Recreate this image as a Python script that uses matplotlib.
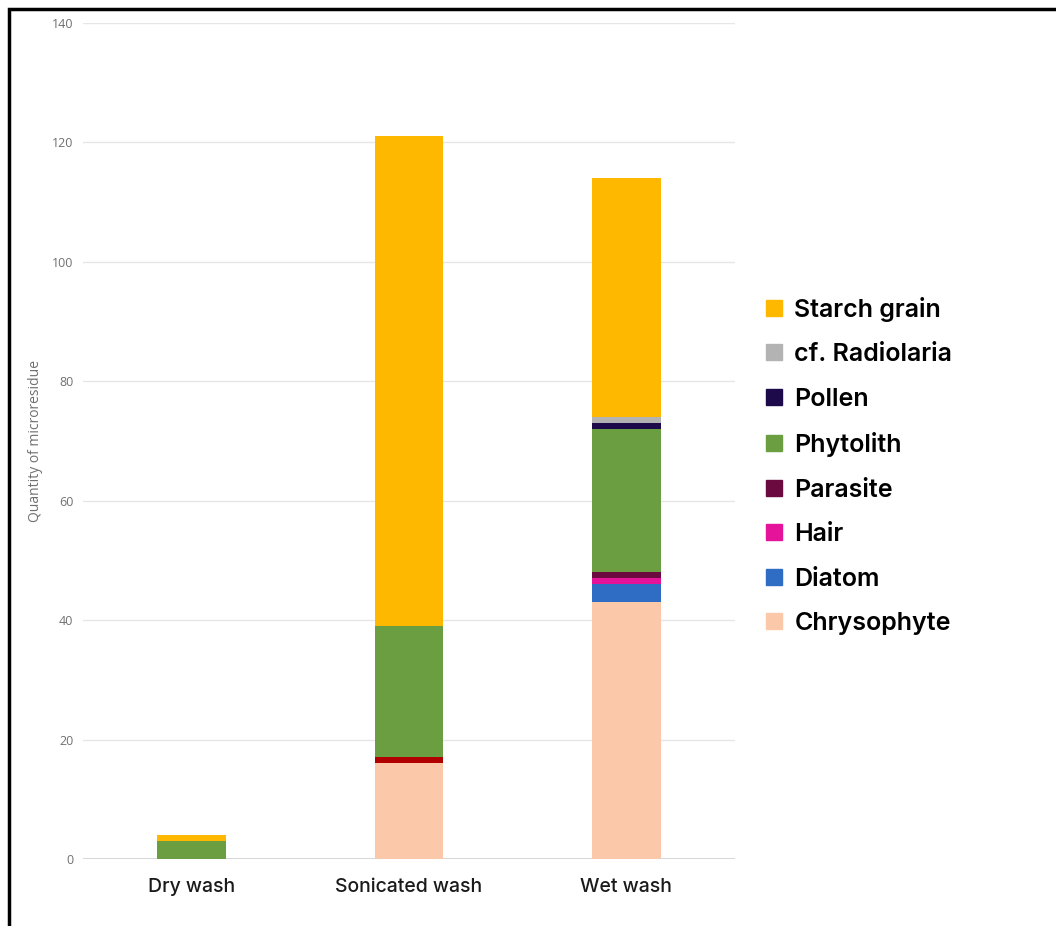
import matplotlib.pyplot as plt
from matplotlib.patches import Rectangle
from matplotlib.lines import Line2D

categories = ["Dry wash", "Sonicated wash", "Wet wash"]

# counts per residue type, stacked bottom-to-top
chrysophyte = [0, 16, 43]
unlisted_red = [0, 1, 0]
diatom = [0, 0, 3]
hair = [0, 0, 1]
parasite = [0, 0, 1]
phytolith = [3, 22, 24]
pollen = [0, 0, 1]
radiolaria = [0, 0, 1]
starch = [1, 82, 40]

series = [
    ("Chrysophyte", chrysophyte, "#FBC9A9"),
    ("_red", unlisted_red, "#B00000"),
    ("Diatom", diatom, "#2F6CC4"),
    ("Hair", hair, "#E5139A"),
    ("Parasite", parasite, "#6B0A3F"),
    ("Phytolith", phytolith, "#6A9E41"),
    ("Pollen", pollen, "#1C0A4A"),
    ("cf. Radiolaria", radiolaria, "#B3B3B3"),
    ("Starch grain", starch, "#FFB800"),
]

fig = plt.figure(figsize=(10.56, 9.26), dpi=100)
ax = fig.add_axes([83 / 1056, 1 - 859 / 926, (735 - 83) / 1056, (859 - 23) / 926])

x = list(range(len(categories)))
bottom = [0] * len(categories)
for name, vals, color in series:
    ax.bar(x, vals, bottom=bottom, width=0.315, color=color, zorder=3)
    bottom = [b + v for b, v in zip(bottom, vals)]

ax.set_xlim(-0.5, 2.5)
ax.set_ylim(0, 140)
ax.set_yticks(range(0, 141, 20))
ax.grid(axis="y", color="#E6E6E6", linewidth=1, zorder=0)
ax.axhline(0, color="#D0D0D0", linewidth=1.2, zorder=2)
for s in ax.spines.values():
    s.set_visible(False)
ax.tick_params(axis="y", length=0, labelsize=9, labelcolor="#707070", pad=7)
ax.tick_params(axis="x", length=0, labelsize=14, labelcolor="#1A1A1A", pad=14)
ax.set_xticks(x)
ax.set_xticklabels(categories, fontfamily="Inter", fontweight="medium")
for lbl in ax.get_yticklabels():
    lbl.set_fontfamily("Open Sans")
ax.set_ylabel("Quantity of microresidue", fontsize=10, color="#707070",
              fontfamily="Open Sans", labelpad=6)

# legend, top entry first
legend_items = [s for s in reversed(series) if not s[0].startswith("_")]
handles = [Line2D([], [], marker="s", linestyle="none", markersize=11.5,
                  markerfacecolor=c, markeredgecolor=c) for _, _, c in legend_items]
labels = [n for n, _, _ in legend_items]
fig.legend(handles, labels, loc="upper left", bbox_to_anchor=(739 / 1056, 1 - 274 / 926),
           frameon=False, prop={"family": "Inter", "size": 18, "weight": "semibold"},
           labelspacing=0.86, handletextpad=0.32, handlelength=1.0)

# frame around the figure
fig.patches.append(Rectangle((9 / 1056, -0.1), 1.2, 1.1 - 9 / 926, transform=fig.transFigure,
                             fill=False, edgecolor="black", linewidth=2.5))

fig.savefig("out.png", dpi=100)
